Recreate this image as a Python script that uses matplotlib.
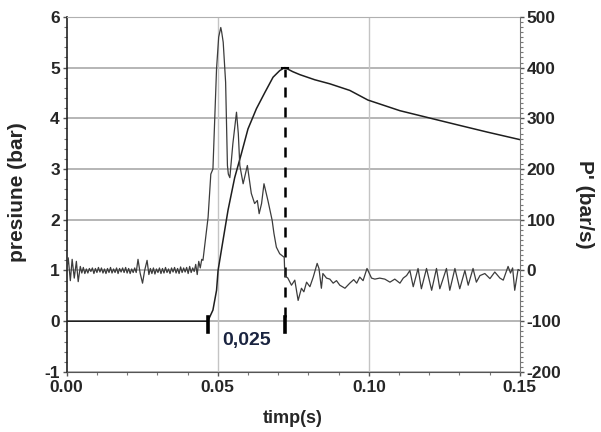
import matplotlib
matplotlib.use('Agg')
import matplotlib.pyplot as plt
from matplotlib.ticker import AutoMinorLocator

plt.rcParams['font.family'] = ['Liberation Sans', 'DejaVu Sans']
plt.rcParams['axes.unicode_minus'] = False

# ---- data ----
# pressure (bar), left axis
p_t = [0.0000, 0.0300, 0.0467, 0.0484, 0.0496, 0.0501, 0.0512, 0.0534, 0.0556,
       0.0578, 0.0600, 0.0628, 0.0656, 0.0683, 0.0705, 0.0722, 0.0748, 0.0772,
       0.0821, 0.0871, 0.0937, 0.0997, 0.1103, 0.1212, 0.1301, 0.1391, 0.1500]
p_val = [0.00, 0.00, 0.00, 0.22, 0.61, 1.00, 1.40, 2.19, 2.83,
         3.30, 3.79, 4.19, 4.51, 4.81, 4.94, 5.00, 4.92, 4.86,
         4.76, 4.68, 4.55, 4.36, 4.15, 3.99, 3.86, 3.73, 3.58]

# pressure derivative (bar/s), right axis
d_t = [0.0000, 0.0005, 0.0012, 0.0018, 0.0025, 0.0032, 0.0038, 0.0045, 0.0050,
       0.0055, 0.0060, 0.0065, 0.0070, 0.0075,
       0.0080, 0.0085, 0.0090, 0.0095, 0.0100, 0.0105, 0.0110, 0.0115, 0.0120,
       0.0125, 0.0130, 0.0135, 0.0140, 0.0145, 0.0150, 0.0155, 0.0160, 0.0165,
       0.0170, 0.0175, 0.0180, 0.0185, 0.0190, 0.0195, 0.0200, 0.0205, 0.0210,
       0.0215, 0.0220, 0.0225, 0.0230, 0.0236, 0.0243, 0.0251, 0.0258, 0.0266,
       0.0272, 0.0277, 0.0282, 0.0287, 0.0292, 0.0297, 0.0302, 0.0307, 0.0312,
       0.0317, 0.0322, 0.0327, 0.0332, 0.0337, 0.0342, 0.0347, 0.0352, 0.0357,
       0.0362, 0.0367, 0.0372, 0.0377, 0.0382, 0.0387, 0.0392, 0.0397, 0.0402,
       0.0407, 0.0412, 0.0417, 0.0422, 0.0427, 0.0432, 0.0437, 0.0442, 0.0447,
       0.0451, 0.0457, 0.0468, 0.0477, 0.0484, 0.0496, 0.0503, 0.0510, 0.0513,
       0.0518, 0.0526, 0.0529, 0.0532, 0.0535, 0.0540, 0.0550, 0.0562, 0.0568,
       0.0573, 0.0584, 0.0598, 0.0611, 0.0622, 0.0631, 0.0637, 0.0645, 0.0653,
       0.0666, 0.0680, 0.0686, 0.0694, 0.0705, 0.0720, 0.0722, 0.0732, 0.0744,
       0.0755, 0.0766, 0.0777, 0.0785, 0.0794, 0.0805, 0.0816, 0.0829, 0.0835,
       0.0843, 0.0848, 0.0860, 0.0871, 0.0882, 0.0893, 0.0904, 0.0921, 0.0937,
       0.0950, 0.0960, 0.0970, 0.0981, 0.0994, 0.1009, 0.1020, 0.1036, 0.1053,
       0.1070, 0.1086, 0.1103, 0.1114, 0.1125, 0.1136, 0.1147, 0.1163, 0.1174,
       0.1191, 0.1208, 0.1224, 0.1235, 0.1257, 0.1268, 0.1285, 0.1301, 0.1318,
       0.1329, 0.1345, 0.1356, 0.1368, 0.1384, 0.1401, 0.1417, 0.1434, 0.1445,
       0.1461, 0.1469, 0.1476, 0.1483, 0.1494, 0.1500]
d_val = [0, 25, -20, 22, -15, 18, -22, 8, -5,
         6, -6, 3, -5, 4,
         -2, 5, -6, 4, -4, 6, -3, 5, -5,
         3, -6, 4, -4, 6, -5, 3, -4, 5,
         -6, 4, -3, 5, -4, 6, -5, 4, -6,
         3, -4, 5, -4, 22, -5, -25, 0, 20,
         -8, 4, -6, 5, -7, 3, -4, 5, -6,
         4, -5, 6, -4, 3, -6, 5, -3, 6,
         -5, 4, -6, 7, -4, 5, -3, 6, -6,
         8, -4, 5, -2, 12, -8, 18, 5, 22,
         20, 50, 105, 190, 200, 398, 460, 479, 470,
         450, 371, 286, 207, 190, 183, 250, 312, 270,
         207, 171, 207, 152, 132, 138, 112, 132, 171,
         138, 99, 73, 46, 33, 26, -10, -15, -29,
         -19, -59, -35, -42, -23, -32, -13, 14, 4,
         -35, -6, -15, -17, -25, -20, -29, -35, -25,
         -18, -25, -13, -20, 4, -15, -17, -15, -17,
         -23, -17, -25, -15, -10, 0, -32, 4, -36,
         4, -39, 4, -36, 4, -39, 4, -36, 0,
         -29, 4, -23, -10, -6, -16, -3, -15, -19,
         8, -5, 5, -39, 2, 0]

t_start = 0.0467
t_peak = 0.0722
interval_label = '0,025'

x_ticks = [0.00, 0.05, 0.10, 0.15]
x_ticklabels = ['0.00', '0.05', '0.10', '0.15']
y_ticks = [-1, 0, 1, 2, 3, 4, 5, 6]
y2_ticks = [-200, -100, 0, 100, 200, 300, 400, 500]

# ---- figure ----
fig = plt.figure(figsize=(6.01, 4.32), dpi=100)
ax = fig.add_axes([0.111, 0.139, 0.754, 0.822])
ax2 = ax.twinx()

ax.set_xlim(0, 0.15)
ax.set_ylim(-1, 6)
ax2.set_ylim(-200, 500)

# grid
for y in y_ticks:
    ax.axhline(y, color='#b0b0b0', lw=1.3, zorder=0)
for x in x_ticks[1:3]:
    ax.axvline(x, color='#c4c4c4', lw=1.0, zorder=0)

ax.plot(p_t, p_val, color='#1e1e1e', lw=1.1, zorder=3)
ax2.plot(d_t, d_val, color='#3c3c3c', lw=0.9, zorder=3)

# markers of the rise time
ax.plot([t_start, t_start], [-0.22, 0.08], color='black', lw=2.6, zorder=4)
ax.plot([t_peak, t_peak], [-0.22, 0.08], color='black', lw=2.6, zorder=4)
ax.plot([t_peak, t_peak], [0.08, 4.98], color='black', lw=1.8,
        dashes=(4, 4), zorder=4)
ax.plot([t_peak - 0.0009, t_peak + 0.0009], [5.0, 5.0], color='black', lw=1.5, zorder=4)
ax.text((t_start + t_peak) / 2 + 0.0002, -0.38, interval_label, ha='center', va='center',
        fontsize=14, fontweight='bold', color='#1a2440', zorder=5)

# ticks
txt = '#262626'
ax.set_xticks(x_ticks)
ax.set_xticklabels(x_ticklabels)
ax.set_yticks(y_ticks)
ax2.set_yticks(y2_ticks)
ax.xaxis.set_minor_locator(AutoMinorLocator(5))
ax.yaxis.set_minor_locator(AutoMinorLocator(5))
ax2.yaxis.set_minor_locator(AutoMinorLocator(10))
for a in (ax, ax2):
    a.tick_params(which='major', length=3, width=1, colors='#555555',
                  labelcolor=txt, labelsize=12.5)
    a.tick_params(which='minor', length=2, width=0.8, colors='#777777')
    for lab in a.get_xticklabels() + a.get_yticklabels():
        lab.set_fontweight('bold')
ax.tick_params(axis='y', pad=2)
ax2.tick_params(axis='y', pad=2)
ax.tick_params(axis='x', pad=3)

ax.spines['left'].set_color('#222222')
ax.spines['left'].set_linewidth(1.2)
ax.spines['bottom'].set_color('#555555')
ax.spines['top'].set_color('#b0b0b0')
ax.spines['right'].set_visible(False)
ax2.spines['left'].set_visible(False)
ax2.spines['top'].set_visible(False)
ax2.spines['bottom'].set_visible(False)
ax2.spines['right'].set_color('#777777')
ax2.spines['right'].set_linestyle((0, (2, 1)))

ax.set_ylabel('presiune (bar)', fontsize=15, fontweight='bold', color=txt)
ax.yaxis.set_label_coords(-0.088, 0.507)
ax.set_xlabel('timp(s)', fontsize=13, fontweight='bold', color=txt)
ax.xaxis.set_label_coords(0.499, -0.107)
ax2.set_ylabel("P' (bar/s)", fontsize=15, fontweight='bold', color=txt,
               rotation=270, va='center')
ax2.yaxis.set_label_coords(1.143, 0.473)

fig.savefig('out.png', dpi=100)
